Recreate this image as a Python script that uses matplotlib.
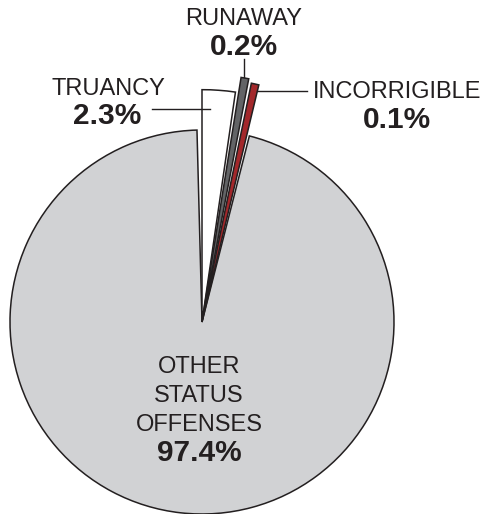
import matplotlib.pyplot as plt
import numpy as np

plt.rcParams['font.family'] = ['Liberation Sans', 'DejaVu Sans']

categories = ["TRUANCY", "RUNAWAY", "INCORRIGIBLE", "OTHER\nSTATUS\nOFFENSES"]
shares = [2.3, 0.2, 0.1, 97.4]
pct_labels = ["2.3%", "0.2%", "0.1%", "97.4%"]
colors = ["#ffffff", "#636466", "#a3282b", "#d1d2d4"]
radii = [1.21, 1.29, 1.27, 1.0]

EDGE = "#231f20"
MIN_DEG = 1.8   # tiny slices are widened so they stay visible
GAP = 0.8
LEFT_GAP = 1.5

# pixel helpers: pie centre at (202, 322), radius 192 px
W, H = 486, 514
CX, CY, R = 202, 322, 192


def px(x, y):
    return (x - CX) / R, (CY - y) / R


fig = plt.figure(figsize=(W / 100, H / 100), dpi=100)
ax = fig.add_axes([0, 0, 1, 1])

# angles for the small slices, clockwise from 12 o'clock
start = 90.0
spans = []
for s in shares[:3]:
    deg = max(s * 3.6, MIN_DEG)
    spans.append((start, deg))
    start = start - deg - GAP
other_start = start
other_deg = 360 - (90 + LEFT_GAP - other_start)

wp = dict(edgecolor=EDGE, linewidth=1.1, joinstyle='miter')
ax.pie([other_deg / 360], normalize=False, startangle=other_start,
       counterclock=False, radius=radii[3], colors=[colors[3]], wedgeprops=wp)
for i, (st, deg) in enumerate(spans):
    ax.pie([deg / 360], normalize=False, startangle=st, counterclock=False,
           radius=radii[i], colors=[colors[i]], wedgeprops=wp)

# labels
norm = dict(ha='center', va='center', fontsize=17, color=EDGE)
bold = dict(ha='center', va='center', fontsize=21.5, color=EDGE, fontweight='bold')

ax.text(*px(108, 89), categories[0], **norm)
ax.text(*px(107, 116), pct_labels[0], **bold)
ax.text(*px(244, 19), categories[1], **norm)
ax.text(*px(244, 47), pct_labels[1], **bold)
ax.text(*px(397, 92), categories[2], **norm)
ax.text(*px(397, 120), pct_labels[2], **bold)
ax.text(*px(199, 396), categories[3], linespacing=1.4, **norm)
ax.text(*px(199, 453), pct_labels[3], **bold)

# leader lines
lw = 1.0
ax.plot(*zip(px(152, 109), px(210, 109)), color=EDGE, lw=lw)
ax.plot(*zip(px(244, 59), px(244, 77)), color=EDGE, lw=lw)
ax.plot(*zip(px(257, 91), px(307, 91)), color=EDGE, lw=lw)

ax.set_xlim(-CX / R, (W - CX) / R)
ax.set_ylim(-(H - CY) / R, CY / R)
ax.set_aspect('equal')
ax.axis('off')

fig.savefig("out.png", dpi=100)
